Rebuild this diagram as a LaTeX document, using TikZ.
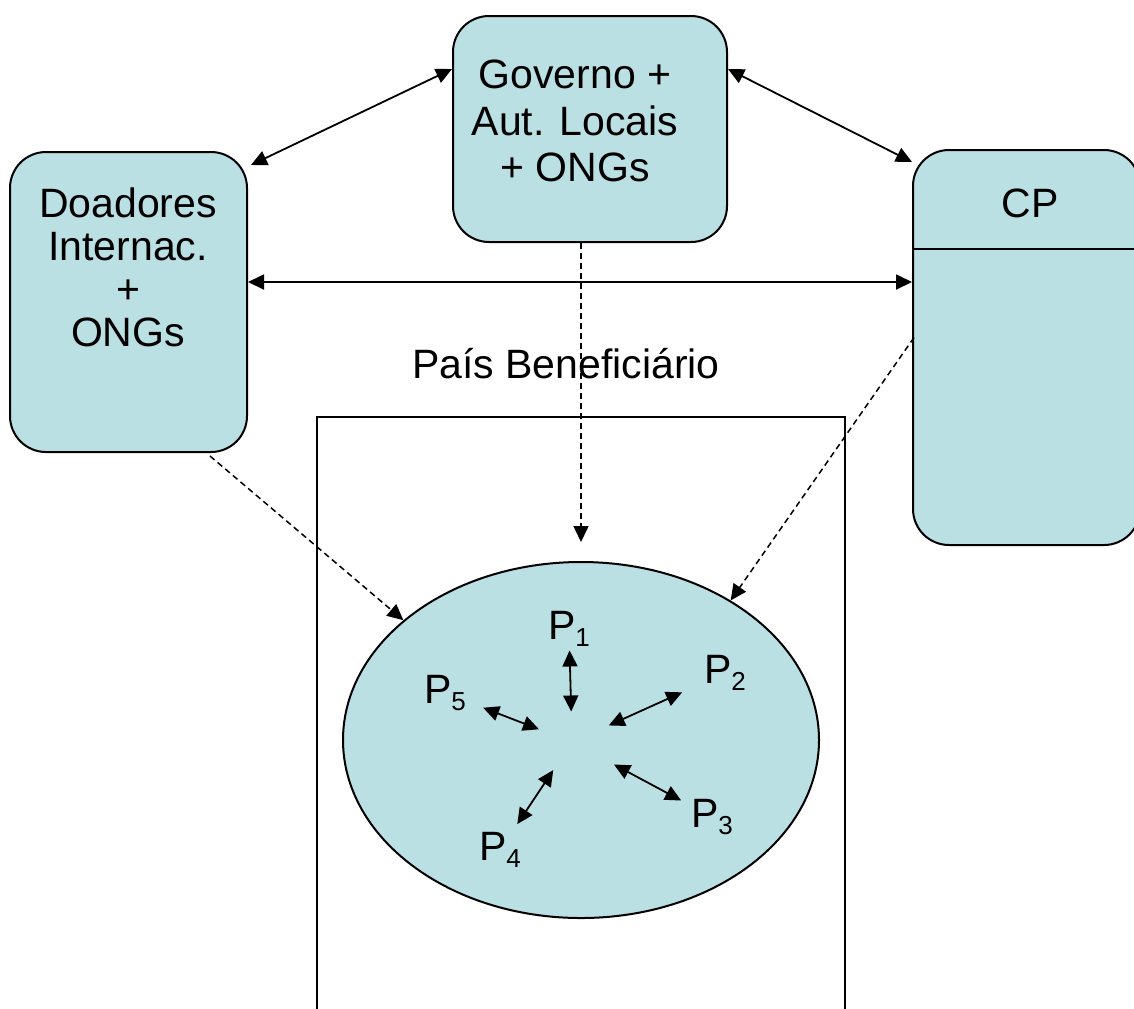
\documentclass[tikz,border=0pt]{standalone}
\usepackage{fontspec}
\setmainfont{Liberation Sans}
\usetikzlibrary{arrows.meta,shapes.geometric,calc,positioning}
\definecolor{paleteal}{RGB}{187,224,227}
\newcommand{\psub}[1]{\raisebox{-3.5pt}{\fontsize{13}{13}\selectfont #1}}
\tikzset{
  actor/.style={draw=black, fill=paleteal, line width=1pt, rounded corners=18pt, inner sep=0pt},
  twoway/.style={{Triangle[length=8pt,width=7.5pt]}-{Triangle[length=8pt,width=7.5pt]}, line width=0.9pt},
  flow/.style={-{Triangle[length=8pt,width=7.5pt]}, line width=0.75pt, dash pattern=on 3pt off 2pt},
  caption/.style={font=\fontsize{20.5}{23.25}\selectfont, align=center, inner sep=0pt},
  plabel/.style={font=\fontsize{20.5}{23}\selectfont, inner sep=0pt}
}

\begin{document}
\begin{tikzpicture}[x=0.5pt, y=-0.5pt]
  \useasboundingbox (0,0) rectangle (1134,1008);
  \clip (0,0) rectangle (1134,1008);
  \draw[line width=0.75pt] (317,1020) |- (845,417) -- (845,1020);
  \node[actor, minimum width=137pt, minimum height=113pt] (gov) at (590,129) {};
  \node[actor, minimum width=118.5pt, minimum height=150pt] (doad) at (128.5,302) {};
  \node[actor, minimum width=113.5pt, minimum height=197.5pt] (cp) at (1026.5,347.5) {};
  \draw[line width=1pt] ($(cp.north west)+(0,100)$) -- ($(cp.north east)+(0,100)$);
  \node[caption] (govtxt) at (575,121) {Governo +\\Aut. Locais\\+ ONGs};
  \node[caption, font=\fontsize{20.5}{21.5}\selectfont] (doadtxt) at (128,267) {Doadores\\Internac.\\+\\ONGs};
  \node[caption] (cptxt) at (1030,203) {CP};
  \node[caption] (paistxt) at (566,364) {País Beneficiário};
  \node[ellipse, draw, fill=paleteal, line width=1pt, minimum width=238pt, minimum height=178pt, inner sep=0pt] (pais) at (581,740) {};
  \draw[twoway] ($(doad.north east)+(3,14)$) -- ($(gov.north west)+(0,54)$);
  \draw[twoway] ($(gov.north east)+(0,54)$) -- ($(cp.north west)+(0,13)$);
  \coordinate (mid) at ($(doad.east)+(0,-20)$);
  \draw[twoway] (mid) -- (mid -| cp.west);
  \draw[flow] ($(doad.south)+(81.5,3)$) -- (pais.146);
  \coordinate (top) at ($(pais.north)+(0,-19)$);
  \draw[flow] (top |- gov.south) -- (top);
  \draw[flow] ($(cp.west)+(2,-10)$) -- (pais.43);
  \coordinate (hub) at (572,742);
  \foreach \n/\x/\y/\a/\b in {1/569/629/0.81/0.27, 2/725/673/0.72/0.24, 3/712/817/0.78/0.30, 4/500/850/0.76/0.26, 5/445/693/0.70/0.26}{
    \node[plabel] (p\n) at (\x,\y) {P\psub{\n}};
    \draw[twoway] ($(hub)!\a!(p\n)$) -- ($(hub)!\b!(p\n)$);
  }
\end{tikzpicture}
\end{document}
